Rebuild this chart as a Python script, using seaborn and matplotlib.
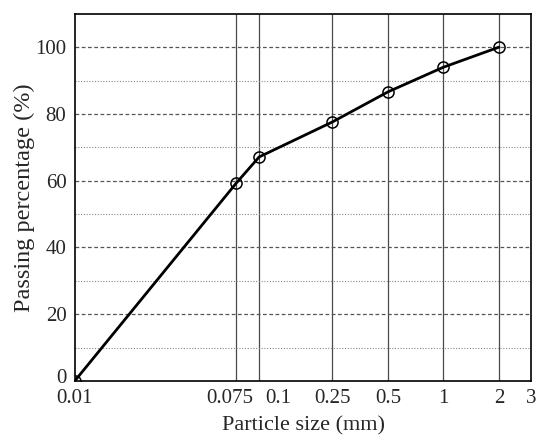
import numpy as np
import pandas as pd
import matplotlib
matplotlib.use('Agg')
import matplotlib.pyplot as plt
import matplotlib.transforms as mtransforms
import seaborn as sns
from matplotlib.ticker import FixedLocator, NullLocator, MultipleLocator

sizes = [0.01, 0.075, 0.1, 0.25, 0.5, 1, 2]
passing = [0, 59.2, 67.1, 77.6, 86.6, 94.0, 100.0]
xtick_vals = [0.01, 0.075, 0.1, 0.25, 0.5, 1, 2, 3]
xtick_labels = ['0.01', '0.075', '0.1', '0.25', '0.5', '1', '2', '3']
vlines = [0.075, 0.1, 0.25, 0.5, 1, 2]

sns.set_style('white')
plt.rcParams['font.family'] = ['Liberation Serif', 'DejaVu Serif']

df = pd.DataFrame({'size': sizes, 'passing': passing})

fig, ax = plt.subplots(figsize=(5.5, 4.46), dpi=100)
fig.subplots_adjust(left=0.136, right=0.966, top=0.969, bottom=0.146)

# grid lines
for v in vlines:
    ax.axvline(v, color='#4a4a4a', lw=0.9, zorder=1)
for h in range(20, 101, 20):
    ax.axhline(h, color='#555555', lw=0.9, ls=(0, (3, 2)), zorder=1)
for h in range(10, 101, 20):
    ax.axhline(h, color='#888888', lw=0.8, ls=(0, (1, 1.5)), zorder=1)

sns.lineplot(data=df, x='size', y='passing', ax=ax, color='black', lw=2,
             marker='o', markersize=8, markerfacecolor='none',
             markeredgecolor='black', markeredgewidth=1.1, zorder=3)

ax.set_xscale('log')
ax.set_xlim(0.01, 3)
ax.set_ylim(0, 110)
ax.xaxis.set_major_locator(FixedLocator(xtick_vals))
ax.set_xticklabels(xtick_labels)
ax.xaxis.set_minor_locator(NullLocator())
ax.yaxis.set_major_locator(MultipleLocator(20))
ax.yaxis.set_minor_locator(MultipleLocator(10))
ax.tick_params(axis='both', which='both', direction='in', labelsize=15,
               color='black')
ax.tick_params(axis='x', pad=6)
ax.tick_params(axis='y', pad=6)
ax.tick_params(which='major', length=5)
ax.tick_params(which='minor', length=3)


def nudge(label, dx, dy):
    label.set_transform(label.get_transform() +
                        mtransforms.ScaledTranslation(dx / 100, dy / 100, fig.dpi_scale_trans))


# nudge the crowded labels apart like the original
shifts = {'0.075': -6, '0.1': 19}
for lab in ax.get_xticklabels():
    if lab.get_text() in shifts:
        nudge(lab, shifts[lab.get_text()], 0)
fig.canvas.draw()
for lab in ax.get_yticklabels():
    if lab.get_text() == '0':
        nudge(lab, 0, 5)

for s in ax.spines.values():
    s.set_color('black')
    s.set_linewidth(1.2)

ax.set_xlabel('Particle size (mm)', fontsize=16, labelpad=6)
ax.set_ylabel('Passing percentage (%)', fontsize=17.5, labelpad=0.5)

fig.savefig('out.png', dpi=100)
